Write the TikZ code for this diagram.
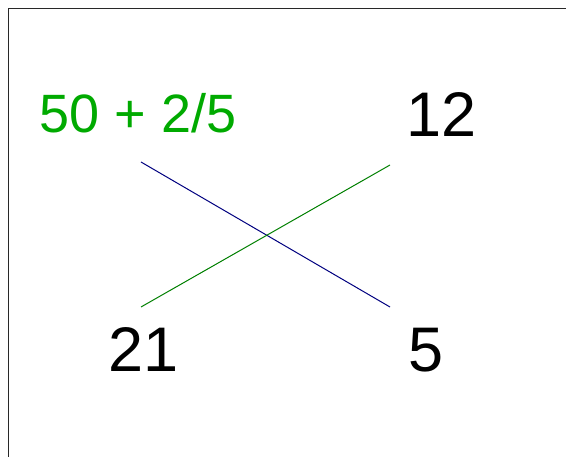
\documentclass[tikz,border=0pt]{standalone}
\usepackage{fontspec}
\setmainfont{Liberation Sans}
\definecolor{txtgreen}{RGB}{0,170,0}
\definecolor{lngreen}{RGB}{0,128,0}
\definecolor{lnblue}{RGB}{0,0,128}
\definecolor{frame}{RGB}{40,40,40}
\tikzset{
  big/.style={inner sep=0pt, anchor=base west, font=\fontsize{63}{63}\selectfont},
  mid/.style={inner sep=0pt, anchor=base west, font=\fontsize{54}{54}\selectfont, text=txtgreen},
  conn/.style={line width=1pt}
}
\begin{document}
\begin{tikzpicture}[x=1pt,y=-1pt]
\useasboundingbox (0,0) rectangle (566,457);
\fill[white] (0,0) rectangle (566,457);
\draw[frame, line width=1.2pt] (8.5,457) -- (8.5,8.5) -- (566,8.5);
\node[mid] (frac) at (39.5,133) {50 + 2/5};
\node[big] (twelve) at (406,137) {12};
\node[big] (twentyone) at (108,372) {21};
\node[big] (five) at (408,372) {5};
\coordinate (bA) at (141,162);
\coordinate (bB) at (390,307);
\coordinate (gA) at (141,307);
\coordinate (gB) at (390,165);
\draw[conn, lnblue] (bA) -- (bB);
\draw[conn, lngreen] (gA) -- (gB);
\end{tikzpicture}
\end{document}
